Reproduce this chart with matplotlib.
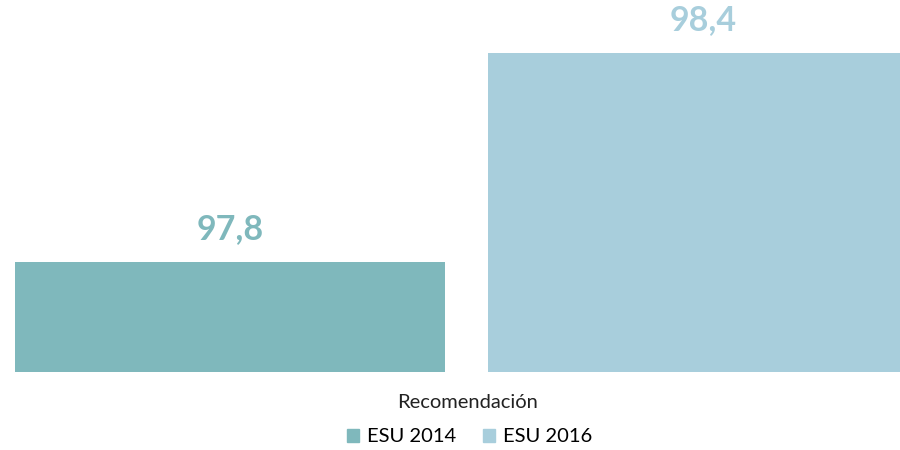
import numpy as np
import matplotlib.pyplot as plt

# =====================================================
# Data
# =====================================================

series = ["ESU 2014", "ESU 2016"]
values = [97.8, 98.4]
labels = ["97,8", "98,4"]
colors = ["#7FB8BC", "#A8CEDC"]
category = "Recomendación"

plt.rcParams['font.family'] = ['Lato', 'DejaVu Sans']

fig = plt.figure(figsize=(9, 4.5), dpi=100)
ax = fig.add_axes([0, 78/450, 1, 372/450])

x = np.arange(len(values))
bars = ax.bar(x, values, width=0.909, color=colors, bottom=0)

# truncated value axis
ybase = 97.484
scale = 348.3
ax.set_ylim(ybase, ybase + 372/scale)
ax.set_xlim(-230/473, 670/473)

for xi, v, lab, c in zip(x, values, labels, colors):
    ax.annotate(
        lab,
        (xi, v),
        xytext=(0, 12),
        textcoords="offset points",
        ha="center",
        va="bottom",
        fontsize=24.5,
        fontweight="bold",
        color=c
    )

for s in ax.spines.values():
    s.set_visible(False)
ax.set_xticks([])
ax.set_yticks([])

fig.text(0.519, 1 - 402/450, category, ha="center", va="center",
         fontsize=14.5, color="#222222")

handles = [plt.Rectangle((0, 0), 1, 1, color=c) for c in colors]
fig.legend(
    handles,
    series,
    loc="center",
    bbox_to_anchor=(0.522, 1 - 437/450),
    ncol=2,
    frameon=False,
    fontsize=14.5,
    handlelength=0.6,
    handleheight=0.6,
    handletextpad=0.4,
    columnspacing=1.3
)

fig.savefig("out.png", dpi=100)
plt.close()
